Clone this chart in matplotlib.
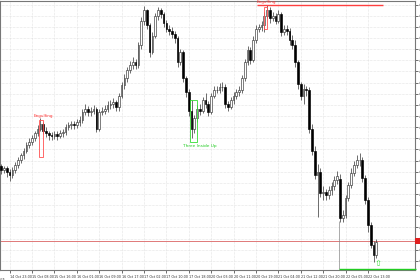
import matplotlib.pyplot as plt
import matplotlib.transforms as mtransforms
from matplotlib.patches import Rectangle
import numpy as np

plt.rcParams["font.family"] = "DejaVu Sans"

# XAUUSD H1, 14-22 Oct 2025
opens = [4150, 4144, 4146, 4141, 4136, 4144, 4151, 4158, 4165, 4172,
         4180, 4184, 4190, 4197, 4204, 4210, 4201, 4197, 4194, 4193,
         4196, 4193, 4197, 4199, 4206, 4209, 4210, 4209, 4213, 4216,
         4228, 4233, 4228, 4230, 4233, 4204, 4228, 4230, 4233, 4238,
         4239, 4242, 4235, 4252, 4267, 4277, 4289, 4296, 4300, 4296,
         4325, 4361, 4376, 4354, 4315, 4339, 4368, 4376, 4370, 4358,
         4349, 4346, 4342, 4335, 4300, 4315, 4277, 4257, 4230, 4204,
         4219, 4233, 4230, 4245, 4239, 4228, 4252, 4260, 4260, 4264,
         4265, 4239, 4236, 4245, 4252, 4257, 4260, 4277, 4300, 4318,
         4303, 4332, 4349, 4351, 4354, 4368, 4376, 4364, 4368, 4361,
         4370, 4344, 4349, 4346, 4332, 4326, 4300, 4268, 4252, 4262,
         4260, 4204, 4172, 4136, 4141, 4110, 4112, 4107, 4114, 4120,
         4129, 4130, 4074, 4078, 4103, 4122, 4140, 4151, 4158, 4158,
         4132, 4100, 4064, 4035, 4020]
closes = [4144, 4146, 4141, 4136, 4144, 4151, 4158, 4165, 4172, 4180,
          4184, 4190, 4197, 4204, 4210, 4201, 4197, 4194, 4193, 4196,
          4193, 4197, 4199, 4206, 4209, 4210, 4209, 4213, 4216, 4228,
          4233, 4228, 4230, 4233, 4204, 4228, 4230, 4233, 4238, 4239,
          4242, 4235, 4252, 4267, 4277, 4289, 4296, 4300, 4296, 4325,
          4361, 4376, 4354, 4315, 4339, 4368, 4376, 4370, 4358, 4349,
          4346, 4342, 4335, 4300, 4315, 4277, 4257, 4230, 4204, 4219,
          4233, 4230, 4245, 4239, 4228, 4252, 4260, 4260, 4264, 4265,
          4239, 4236, 4245, 4252, 4257, 4260, 4277, 4300, 4318, 4303,
          4332, 4349, 4351, 4354, 4368, 4376, 4364, 4368, 4361, 4370,
          4344, 4349, 4346, 4332, 4326, 4300, 4268, 4252, 4262, 4260,
          4204, 4172, 4136, 4141, 4110, 4112, 4107, 4114, 4120, 4129,
          4135, 4074, 4078, 4103, 4122, 4140, 4151, 4158, 4158, 4132,
          4100, 4064, 4035, 4020, 4039]
highs = [4153, 4150, 4149, 4145, 4148, 4155, 4162, 4169, 4176, 4184,
         4190, 4194, 4201, 4209, 4219, 4213, 4206, 4201, 4199, 4201,
         4200, 4202, 4204, 4210, 4214, 4215, 4215, 4218, 4222, 4232,
         4240, 4237, 4236, 4238, 4236, 4232, 4236, 4238, 4244, 4245,
         4248, 4246, 4256, 4272, 4283, 4294, 4302, 4308, 4305, 4330,
         4366, 4382, 4378, 4358, 4345, 4372, 4380, 4379, 4373, 4362,
         4354, 4351, 4346, 4338, 4320, 4318, 4281, 4262, 4245, 4224,
         4238, 4240, 4250, 4255, 4244, 4256, 4266, 4266, 4270, 4271,
         4268, 4244, 4250, 4257, 4262, 4266, 4282, 4305, 4324, 4322,
         4338, 4354, 4356, 4360, 4374, 4383, 4380, 4373, 4372, 4376,
         4374, 4355, 4354, 4350, 4340, 4332, 4304, 4272, 4268, 4266,
         4264, 4210, 4178, 4152, 4146, 4120, 4116, 4120, 4126, 4135,
         4142, 4138, 4086, 4108, 4127, 4146, 4157, 4166, 4168, 4162,
         4136, 4104, 4068, 4040, 4044]
lows = [4138, 4139, 4134, 4128, 4132, 4140, 4147, 4154, 4160, 4168,
        4176, 4180, 4186, 4193, 4200, 4196, 4192, 4188, 4187, 4189,
        4188, 4190, 4192, 4195, 4202, 4204, 4203, 4205, 4208, 4212,
        4224, 4222, 4222, 4225, 4199, 4200, 4223, 4225, 4228, 4232,
        4234, 4230, 4230, 4248, 4262, 4272, 4284, 4290, 4290, 4292,
        4320, 4355, 4348, 4308, 4312, 4335, 4362, 4364, 4352, 4344,
        4340, 4336, 4328, 4294, 4296, 4272, 4250, 4222, 4190, 4198,
        4214, 4224, 4226, 4234, 4222, 4225, 4248, 4255, 4256, 4259,
        4234, 4230, 4232, 4240, 4247, 4252, 4256, 4273, 4296, 4298,
        4300, 4328, 4344, 4346, 4345, 4364, 4358, 4360, 4356, 4357,
        4338, 4340, 4340, 4326, 4320, 4294, 4262, 4245, 4240, 4252,
        4198, 4166, 4130, 4075, 4104, 4100, 4100, 4102, 4108, 4115,
        4124, 4068, 4068, 4074, 4098, 4118, 4135, 4146, 4150, 4126,
        4094, 4054, 4030, 4010, 4016]

tick_bars = [3, 11, 19, 27, 35, 43, 51, 59, 67, 75, 83, 91, 99, 107, 115, 123, 131]
tick_labels = ["14 Oct 23:00", "15 Oct 08:00", "15 Oct 16:00", "16 Oct 01:00",
               "16 Oct 09:00", "16 Oct 17:00", "17 Oct 02:00", "17 Oct 10:00",
               "17 Oct 18:00", "20 Oct 03:00", "20 Oct 11:00", "20 Oct 19:00",
               "21 Oct 04:00", "21 Oct 12:00", "21 Oct 20:00", "22 Oct 05:00",
               "22 Oct 13:00"]
price_ticks = [4384.2, 4368.0, 4351.8, 4335.6, 4319.4, 4303.2, 4287.0, 4270.8,
               4254.6, 4238.4, 4222.2, 4206.0, 4189.8, 4173.6, 4157.4, 4141.2,
               4125.0, 4108.8, 4092.6, 4076.4, 4060.2, 4044.0, 4027.8, 4011.6]

price_line = 4040.5
low_level = 4000
high_level = 4384

fig = plt.figure(figsize=(4.2, 2.8), dpi=100)
ax = fig.add_axes([0.0, 0.036, 0.988, 0.962])

x = np.arange(len(closes))
o = np.array(opens)
c = np.array(closes)
up = c >= o

# wicks
ax.vlines(x, lows, highs, color="#333333", linewidth=0.5, zorder=2)
# bodies
bottoms = np.minimum(o, c)
heights = np.maximum(np.abs(c - o), 0.6)
ax.bar(x[up], heights[up], bottom=bottoms[up], width=0.62,
       color="white", edgecolor="#333333", linewidth=0.45, zorder=3)
ax.bar(x[~up], heights[~up], bottom=bottoms[~up], width=0.62,
       color="black", edgecolor="black", linewidth=0.45, zorder=3)

# levels
ax.axhline(price_line, color="#e07878", linewidth=0.7, zorder=1)
ax.hlines(high_level, 91.4, 136.4, color="#ff4040", linewidth=1.0, zorder=4)
ax.hlines(low_level, 120.6, 148, color="#22cc22", linewidth=1.0, zorder=4, clip_on=False)
ax.vlines(120.6, low_level, 4070, color="#888888", linewidth=0.5, zorder=1)

# pattern boxes
ax.add_patch(Rectangle((13.5, 4162), 1.3, 54, fill=False, edgecolor="#ff5050", linewidth=0.6, zorder=4))
ax.add_patch(Rectangle((93.8, 4348), 1.3, 32, fill=False, edgecolor="#ff5050", linewidth=0.6, zorder=4))
ax.add_patch(Rectangle((67.4, 4184), 2.5, 61, fill=False, edgecolor="#33dd33", linewidth=0.6, zorder=4))

ax.text(14.9, 4220, "Engulfing", color="#ff3030", fontsize=3.0, ha="center", va="bottom", zorder=5)
ax.text(94.6, 4385, "Engulfing", color="#ff3030", fontsize=3.0, ha="center", va="bottom", zorder=5)
ax.text(71.0, 4181, "Three Inside Up", color="#22cc22", fontsize=3.1, ha="center", va="top", zorder=5)
ax.text(134.7, 4001, "\u21e7", color="#33dd33", fontsize=6, ha="center", va="bottom", zorder=5)

ax.set_xlim(-0.43, 147.8)
ax.set_ylim(3998.5, 4390)

# grid
ax.set_xticks(tick_bars)
ax.set_xticklabels(tick_labels, fontsize=2.4, ha="left")
for lab in ax.get_xticklabels():
    lab.set_transform(lab.get_transform() + mtransforms.ScaledTranslation(0.012, 0, fig.dpi_scale_trans))
ax.yaxis.tick_right()
ax.set_yticks(price_ticks)
ax.set_yticklabels([f"{p:.2f}" for p in price_ticks], fontsize=2.6)
ax.tick_params(axis="x", length=2.5, width=0.5, pad=0.8, colors="#333333")
ax.tick_params(axis="y", length=2.0, width=0.5, pad=0.5, colors="#333333")
ax.grid(True, color="#cccccc", linestyle=(0, (1, 1.5)), linewidth=0.4)
ax.set_axisbelow(True)
for s in ax.spines.values():
    s.set_color("#777777")
    s.set_linewidth(0.8)

ax.text(-6.2, -0.03, "14 Oct 2025", transform=mtransforms.blended_transform_factory(ax.transData, ax.transAxes),
        fontsize=2.4, ha="left", va="top", color="#333333", clip_on=False)

# current price marker on the price scale
fig.patches.append(Rectangle((0.988, (280 - 244) / 280), 0.014, 6 / 280, transform=fig.transFigure,
                             facecolor="#e02020", edgecolor="none", figure=fig, zorder=6))

fig.savefig("out.png", dpi=100)
